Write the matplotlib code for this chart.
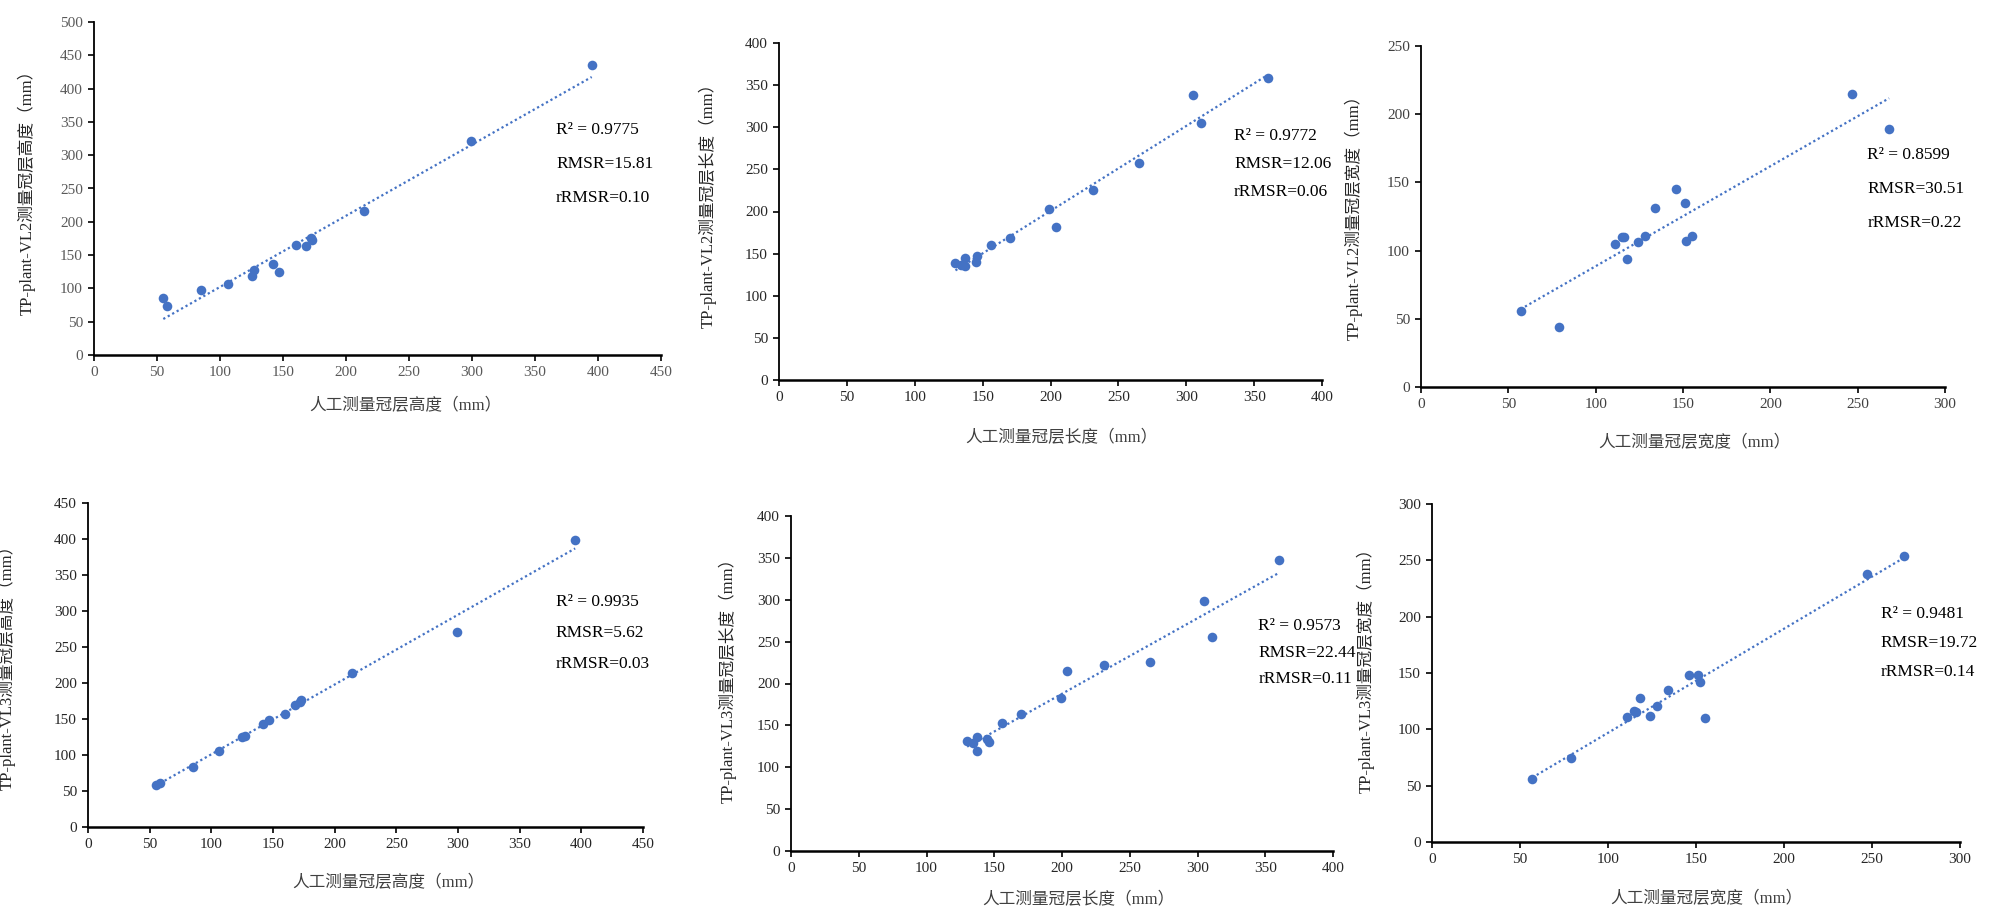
import numpy as np
import matplotlib
matplotlib.use("Agg")
import matplotlib.pyplot as plt

plt.rcParams['font.family'] = ['Liberation Serif', 'Noto Sans CJK SC', 'DejaVu Sans']
plt.rcParams['axes.unicode_minus'] = False

# ---------------- data ----------------
height_manual = [55, 58, 85, 106, 125, 127, 142, 147, 160, 168, 172, 173, 214, 299, 395]
height_vl2 = [86, 73, 98, 107, 119, 127, 136, 124, 165, 164, 176, 173, 216, 322, 436]
height_vl3 = [58, 61, 84, 105, 125, 127, 143, 149, 157, 170, 173, 176, 214, 271, 399]

length_manual = [130, 134, 137, 137, 145, 146, 156, 170, 199, 204, 231, 265, 305, 311, 360]
length_vl2 = [139, 137, 145, 135, 140, 147, 160, 169, 203, 182, 225, 257, 338, 305, 359]
length_vl3 = [131, 129, 136, 119, 134, 130, 153, 163, 183, 215, 222, 226, 298, 256, 348]

width_manual = [57, 79, 111, 115, 116, 118, 124, 128, 134, 146, 151, 152, 155, 247, 268]
width_vl2 = [56, 44, 105, 110, 110, 94, 106, 111, 131, 145, 135, 107, 111, 215, 189]
width_vl3 = [56, 75, 111, 116, 115, 128, 112, 121, 135, 148, 148, 142, 110, 238, 254]

stats = [
    ("0.9775", "15.81", "0.10"),
    ("0.9772", "12.06", "0.06"),
    ("0.8599", "30.51", "0.22"),
    ("0.9935", "5.62", "0.03"),
    ("0.9573", "22.44", "0.11"),
    ("0.9481", "19.72", "0.14"),
]
xlabels = ["人工测量冠层高度（mm）", "人工测量冠层长度（mm）", "人工测量冠层宽度（mm）"] * 2
ylabels = ["TP-plant-VL2测量冠层高度（mm）", "TP-plant-VL2测量冠层长度（mm）", "TP-plant-VL2测量冠层宽度（mm）",
           "TP-plant-VL3测量冠层高度（mm）", "TP-plant-VL3测量冠层长度（mm）", "TP-plant-VL3测量冠层宽度（mm）"]
xlims = [450, 400, 300, 450, 400, 300]
ylims = [500, 400, 250, 450, 400, 300]
series = [
    (height_manual, height_vl2), (length_manual, length_vl2), (width_manual, width_vl2),
    (height_manual, height_vl3), (length_manual, length_vl3), (width_manual, width_vl3),
]

# ---------------- layout (pixels) ----------------
W, H = 1994, 923
boxes = [  # left, right, top, bottom
    (94, 661, 22, 355),
    (779, 1322, 43, 380),
    (1421, 1945, 46, 387),
    (88, 643, 503, 827),
    (791, 1333, 516, 851),
    (1432, 1960, 504, 842),
]
ann_pos = [(0.815, 0.675, 0.102), (0.838, 0.723, 0.082), (0.852, 0.68, 0.099),
           (0.843, 0.694, 0.095), (0.862, 0.672, 0.08), (0.85, 0.675, 0.086)]
ylab_pos = [(-0.102, 0.5), (-0.114, 0.53), (-0.111, 0.51), (-0.13, 0.505), (-0.101, 0.52), (-0.108, 0.52)]
xlab_pos = [(0.549, -0.129), (0.52, -0.148), (0.522, -0.141), (0.541, -0.148), (0.531, -0.122), (0.52, -0.145)]
tick_colors = ["#595959", "#262626", "#404040", "#262626", "#262626", "#262626"]

blue = "#4472C4"
fig = plt.figure(figsize=(W / 100, H / 100), dpi=100)
for i in range(6):
    l, r, t, b = boxes[i]
    ax = fig.add_axes([l / W, 1 - b / H, (r - l) / W, (b - t) / H])
    x = np.array(series[i][0], dtype=float)
    y = np.array(series[i][1], dtype=float)
    ax.scatter(x, y, s=48, color=blue, zorder=3, linewidths=0)
    k, c = np.polyfit(x, y, 1)
    xs = np.array([x.min(), x.max()])
    ax.plot(xs, k * xs + c, color=blue, lw=1.6, linestyle=(0, (1, 1.3)), zorder=2)
    ax.set_xlim(0, xlims[i])
    ax.set_ylim(0, ylims[i])
    ax.set_xticks(np.arange(0, xlims[i] + 1, 50))
    ax.set_yticks(np.arange(0, ylims[i] + 1, 50))
    for s in ["top", "right"]:
        ax.spines[s].set_visible(False)
    ax.spines["left"].set_linewidth(1.3)
    ax.spines["bottom"].set_linewidth(1.8)
    ax.spines["left"].set_color("black")
    ax.spines["bottom"].set_color("black")
    ax.tick_params(direction="out", length=4, width=1.2, color="black",
                   labelsize=11, labelcolor=tick_colors[i], pad=4)
    ax.set_xlabel(xlabels[i], fontsize=12, color="#404040")
    ax.set_ylabel(ylabels[i], fontsize=12, color="#262626")
    ax.xaxis.set_label_coords(*xlab_pos[i])
    ax.yaxis.set_label_coords(*ylab_pos[i])
    ax_x, ax_y, dy = ann_pos[i]
    r2, rmsr, rrmsr = stats[i]
    ax.text(ax_x, ax_y, f"R² = {r2}", transform=ax.transAxes, fontsize=12.5, va="center", ha="left")
    ax.text(ax_x, ax_y - dy, f"RMSR={rmsr}", transform=ax.transAxes, fontsize=12.5, va="center", ha="left")
    ax.text(ax_x, ax_y - 2 * dy, f"rRMSR={rrmsr}", transform=ax.transAxes, fontsize=12.5, va="center", ha="left")

fig.savefig("out.png", dpi=100, facecolor="white")
